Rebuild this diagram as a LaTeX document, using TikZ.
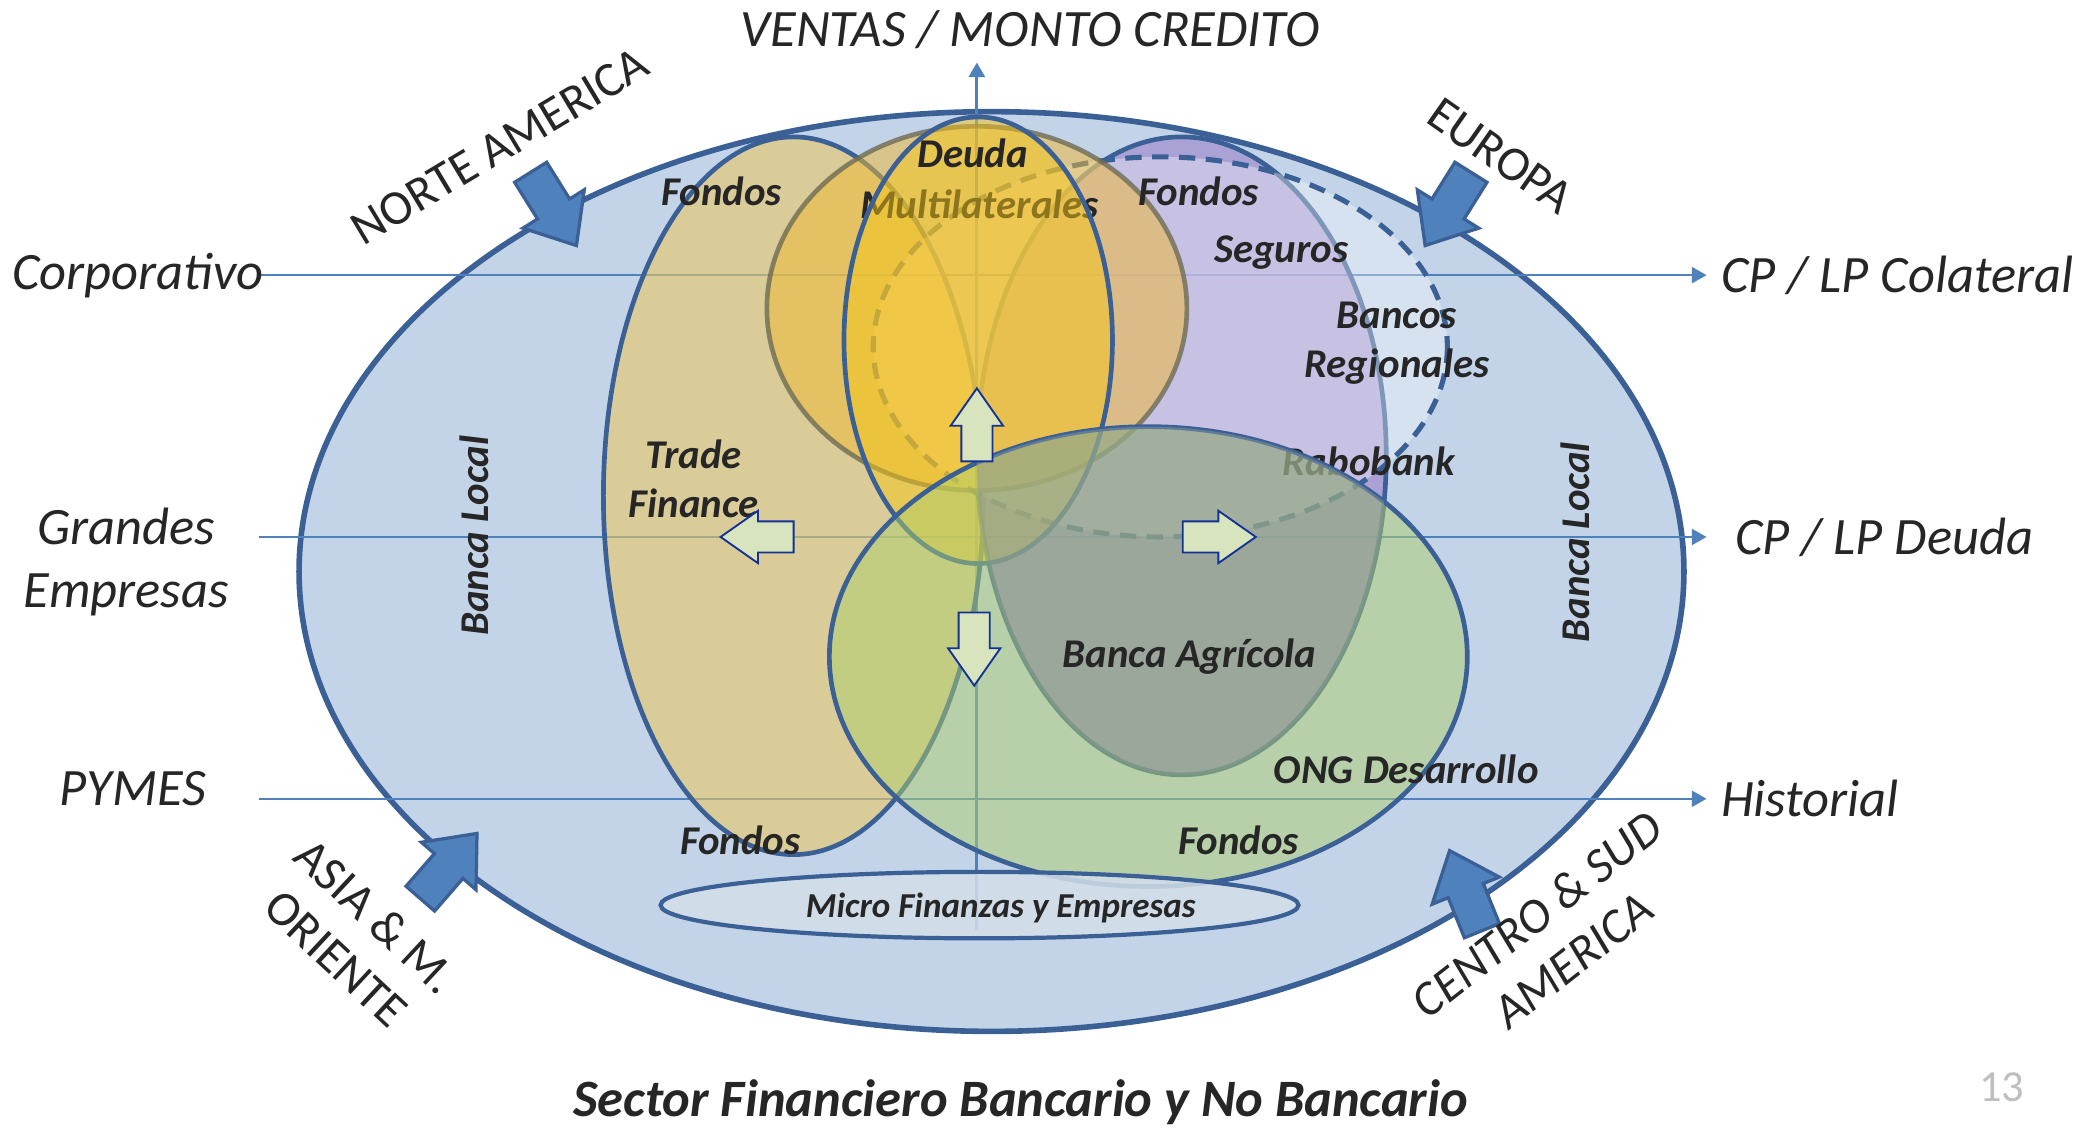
\documentclass[tikz,border=0pt]{standalone}
\usepackage{fontspec}
\setmainfont{Carlito}
\usetikzlibrary{arrows.meta,shapes.arrows,positioning}

\definecolor{rim}{RGB}{58,96,149}
\definecolor{globe}{RGB}{195,211,232}
\definecolor{axisblue}{RGB}{79,129,189}
\definecolor{tanfill}{RGB}{232,200,100}
\definecolor{gold}{RGB}{240,184,48}
\definecolor{deudafill}{RGB}{245,197,24}
\definecolor{lila}{RGB}{160,140,205}
\definecolor{verde}{RGB}{173,207,109}
\definecolor{agri}{RGB}{140,152,151}
\definecolor{microfill}{RGB}{211,223,234}
\definecolor{ink}{RGB}{38,38,38}
\definecolor{pale}{RGB}{215,228,189}
\definecolor{navy}{RGB}{20,50,150}
\definecolor{olive}{RGB}{110,108,85}

\begin{document}
\begin{tikzpicture}[x=0.02cm,y=-0.02cm,
  zone/.style={draw=rim,line width=2pt},
  axisline/.style={draw=axisblue,line width=0.9pt,-{Triangle[length=2.2mm,width=2.4mm]}},
  sidelabel/.style={font=\fontsize{22.5}{27}\selectfont\itshape,text=ink,align=center,inner xsep=2pt},
  geolabel/.style={font=\fontsize{21}{25}\selectfont,text=ink,align=center},
  innerlabel/.style={font=\fontsize{17.5}{21}\selectfont\bfseries\itshape,text=ink,align=center},
  movearrow/.style={single arrow,draw=navy,fill=pale,line width=0.8pt,inner xsep=0pt,
    inner ysep=0.22cm,minimum height=1.1cm,single arrow head extend=0.16cm,
    single arrow tip angle=70},
  geoarrow/.style={single arrow,draw=rim,fill=axisblue,line width=1.4pt,inner xsep=0pt,
    inner ysep=0.26cm,minimum height=1.3cm,single arrow head extend=0.26cm,
    single arrow tip angle=80}]
\useasboundingbox (0,0) rectangle (1568,849);

% globe
\draw[zone,line width=2.4pt,fill=globe] (746,430) ellipse [x radius=521,y radius=346];

% axes
\coordinate (h1) at (195,207);
\coordinate (h2) at (195,404);
\coordinate (h3) at (195,601);
\coordinate (r1) at (1284,207);
\coordinate (r2) at (1284,404);
\coordinate (r3) at (1284,601);
\coordinate (v0) at (735,700);
\coordinate (v1) at (735,47);
\draw[axisline] (h1) -- (r1);
\draw[axisline] (h2) -- (r2);
\draw[axisline] (h3) -- (r3);
\draw[axisline,line width=1.3pt] (v0) -- (v1);

\node[sidelabel] (ventas) at (775,22) {VENTAS / MONTO CREDITO};
\node[sidelabel,left=-4pt of h1] (corp) {Corporativo};
\node[sidelabel] (grandes) at (95,423) {Grandes\\Empresas};
\node[sidelabel] (pymes) at (100,593) {PYMES};
\node[sidelabel,right=4pt of r1] (colat) {CP / LP Colateral};
\node[sidelabel,right=10pt of r2] (deuda) {CP / LP Deuda};
\node[sidelabel,right=4pt of r3] (hist) {Historial};

% sets
\draw[zone,fill=tanfill,fill opacity=0.6] (597,373) ellipse [x radius=143,y radius=270];
\draw[zone,fill=lila,fill opacity=0.7] (889,343) ellipse [x radius=154,y radius=240];
\draw[zone,line width=2.2pt,dash pattern=on 7pt off 4.5pt,fill=white,fill opacity=0.35]
  (873,261) ellipse [x radius=216,y radius=143];
\draw[draw=olive,draw opacity=0.8,line width=2pt,fill=gold,fill opacity=0.5]
  (735,232) ellipse [x radius=158,y radius=137];
\node[innerlabel] (multi) at (737,154) {Multilaterales};
\draw[zone,fill=deudafill,fill opacity=0.5] (736,256) ellipse [x radius=101,y radius=168];
\node[innerlabel] (rabo) at (1030,347) {Rabobank};
\draw[zone,fill=verde,fill opacity=0.5] (864,494) ellipse [x radius=240,y radius=173];
\begin{scope}
  \clip (889,343) ellipse [x radius=154,y radius=240];
  \fill[agri,opacity=0.5] (864,494) ellipse [x radius=240,y radius=173];
\end{scope}
\draw[zone,line width=1.8pt,fill=microfill,fill opacity=0.85] (737,681) ellipse [x radius=240,y radius=25];

% labels
\node[innerlabel] (fondos1) at (543,144) {Fondos};
\node[innerlabel] (deudalbl) at (732,115) {Deuda};
\node[innerlabel] (fondos2) at (902,144) {Fondos};
\node[innerlabel] (seguros) at (964,190) {Seguros};
\node[innerlabel] (bancos) at (1051,258) {Bancos\\Regionales};
\node[innerlabel] (trade) at (522,360) {Trade\\Finance};
\node[innerlabel] (agricola) at (895,494) {Banca Agrícola};
\node[innerlabel] (ong) at (1058,579) {ONG Desarrollo};
\node[innerlabel] (fondos3) at (557,632) {Fondos};
\node[innerlabel] (fondos4) at (932,632) {Fondos};
\node[innerlabel,font=\fontsize{15}{18}\selectfont\bfseries\itshape] (micro) at (753,683) {Micro Finanzas y Empresas};
\node[innerlabel,rotate=90] (local1) at (357,403) {Banca Local};
\node[innerlabel,rotate=90] (local2) at (1185,408) {Banca Local};

% moves
\node[movearrow,rotate=90] (up) at (735,328) {};
\node[movearrow,rotate=180] (left) at (578,404) {};
\node[movearrow] (right) at (909,404) {};
\node[movearrow,rotate=-90] (down) at (733,480) {};

% regions
\node[geoarrow,rotate=-58] (na) at (412,150) {};
\node[geoarrow,rotate=-122] (eu) at (1094,150) {};
\node[geoarrow,rotate=49] (as) at (332,658) {};
\node[geoarrow,rotate=112] (sa) at (1106,678) {};
\node[geolabel,rotate=31] (nalbl) at (376,110) {NORTE AMERICA};
\node[geolabel,rotate=-35] (eulbl) at (1129,117) {EUROPA};
\node[geolabel,rotate=-43] (aslbl) at (268,705) {ASIA \& M.\\ORIENTE};
\node[geolabel,rotate=38,font=\fontsize{21}{25}\selectfont\itshape] (salbl) at (1170,705) {CENTRO \& SUD\\AMERICA};

\node[innerlabel,font=\fontsize{22.5}{26}\selectfont\bfseries\itshape] (sector) at (768,829) {Sector Financiero Bancario y No Bancario};
\node[font=\fontsize{19}{23}\selectfont,text=black!25] (page) at (1506,818) {13};
\end{tikzpicture}
\end{document}
